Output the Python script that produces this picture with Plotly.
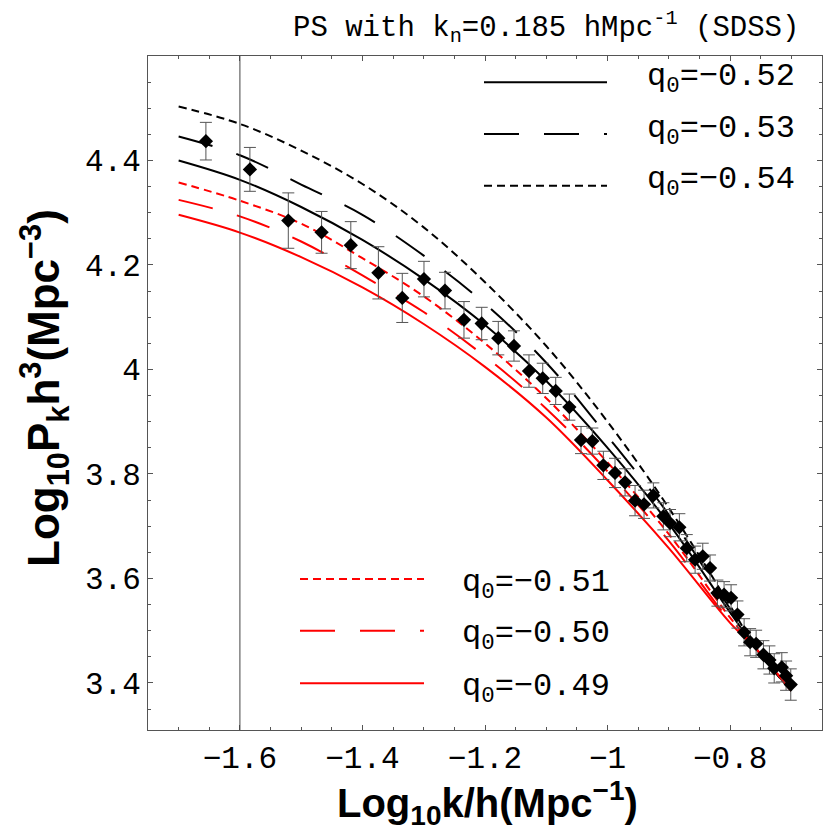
import plotly.graph_objects as go

# ---- observed data (SDSS power spectrum) ----
data_logk = [-1.6555, -1.5837, -1.521, -1.4667, -1.419, -1.374, -1.335, -1.2996, -1.2653,
             -1.2343, -1.2054, -1.1783, -1.1527, -1.1282, -1.1058, -1.0846, -1.0623, -1.0433,
             -1.0248, -1.0068, -0.9878, -0.9714, -0.9551, -0.9404, -0.9252, -0.9089, -0.898,
             -0.8828, -0.8707, -0.8571, -0.8446, -0.8327, -0.8207, -0.8098, -0.7984, -0.788,
             -0.7771, -0.7673, -0.7575, -0.7456, -0.7358, -0.728, -0.7156, -0.7086, -0.701]
data_logP = [4.437, 4.383, 4.285, 4.2625, 4.238, 4.185, 4.137, 4.173, 4.151,
             4.095, 4.088, 4.060, 4.045, 3.997, 3.983, 3.959, 3.928, 3.865,
             3.863, 3.8165, 3.802, 3.784, 3.749, 3.742, 3.759, 3.719, 3.706,
             3.698, 3.658, 3.636, 3.6425, 3.620, 3.572, 3.569, 3.563, 3.531,
             3.497, 3.478, 3.475, 3.454, 3.444, 3.428, 3.430, 3.414, 3.397]
data_err = [0.036, 0.042, 0.053, 0.040, 0.045, 0.050, 0.047, 0.034, 0.035,
            0.035, 0.031, 0.032, 0.029, 0.031, 0.029, 0.026, 0.025, 0.026,
            0.025, 0.027, 0.028, 0.026, 0.029, 0.027, 0.024, 0.026, 0.026,
            0.026, 0.026, 0.026, 0.025, 0.025, 0.025, 0.025, 0.025, 0.026,
            0.026, 0.026, 0.026, 0.027, 0.027, 0.028, 0.028, 0.028, 0.030]

# ---- model curves ----
model_logk = [-1.70, -1.60, -1.50, -1.40, -1.30, -1.20, -1.10, -1.00, -0.90, -0.80, -0.755, -0.70]
q052 = [4.400, 4.363, 4.311, 4.248, 4.173, 4.085, 3.978, 3.850, 3.705, 3.535, 3.462, 3.385]
q053 = [4.446, 4.410, 4.354, 4.296, 4.218, 4.126, 4.013, 3.872, 3.722, 3.542, 3.462, 3.385]
q054 = [4.5035, 4.470, 4.419, 4.355, 4.272, 4.167, 4.045, 3.900, 3.735, 3.548, 3.462, 3.385]
q051 = [4.358, 4.323, 4.279, 4.213, 4.140, 4.050, 3.945, 3.822, 3.685, 3.525, 3.462, 3.385]
q050 = [4.3246, 4.293, 4.245, 4.180, 4.110, 4.025, 3.925, 3.805, 3.672, 3.518, 3.462, 3.385]
q049 = [4.296, 4.262, 4.215, 4.157, 4.087, 4.005, 3.908, 3.788, 3.658, 3.515, 3.462, 3.385]

legend_top = ["q<sub>0</sub>=−0.52", "q<sub>0</sub>=−0.53", "q<sub>0</sub>=−0.54"]
legend_bot = ["q<sub>0</sub>=−0.51", "q<sub>0</sub>=−0.50", "q<sub>0</sub>=−0.49"]

xtick_vals = [-1.6, -1.4, -1.2, -1.0, -0.8]
xtick_text = ["−1.6", "−1.4", "−1.2", "−1", "−0.8"]
ytick_vals = [3.4, 3.6, 3.8, 4.0, 4.2, 4.4]
ytick_text = ["3.4", "3.6", "3.8", "4", "4.2", "4.4"]

MONO = "Liberation Mono, Courier New, monospace"
SANS = "Liberation Sans, Arial, sans-serif"
LONG = "35px,25px"
SHORT = "8px,5px"

curves = [
    (q054, "black", SHORT),
    (q053, "black", LONG),
    (q052, "black", "solid"),
    (q051, "red", SHORT),
    (q050, "red", LONG),
    (q049, "red", "solid"),
]

fig = go.Figure()
for ys, col, dash in curves:
    fig.add_trace(go.Scatter(x=model_logk, y=ys, mode="lines", line_shape="spline",
                             line=dict(color=col, width=2, dash=dash), showlegend=False))

fig.add_trace(go.Scatter(
    x=data_logk, y=data_logP, mode="markers",
    marker=dict(symbol="diamond", size=11, color="black"),
    error_y=dict(type="data", array=data_err, color="#555555", thickness=1, width=6),
    showlegend=False))

# vertical axis line at -1.6
fig.add_vline(x=-1.6, line=dict(color="#444444", width=1))

# the page body adds an 8px offset; figure is sized so that page coords match
OFF = 8
W = H = 832 - OFF
L, R, T, B = 148 - OFF, 10, 56 - OFF, 102
PW, PH = W - L - R, H - T - B


def px2paper_x(px):
    return (px - OFF - L) / PW


def px2paper_y(py):
    return (H - B - (py - OFF)) / PH


top_rows = [(82.3, "black", "solid"), (134.0, "black", LONG), (185.7, "black", SHORT)]
bot_rows = [(579.0, "red", SHORT), (630.7, "red", LONG), (683.3, "red", "solid")]
for (py, col, dash), txt in zip(top_rows, legend_top):
    fig.add_shape(type="line", xref="paper", yref="paper",
                  x0=px2paper_x(484), x1=px2paper_x(607), y0=px2paper_y(py), y1=px2paper_y(py),
                  line=dict(color=col, width=2, dash=dash))
    fig.add_annotation(xref="paper", yref="paper", x=px2paper_x(645), y=px2paper_y(py - 4),
                       text=txt, showarrow=False, xanchor="left", yanchor="middle",
                       font=dict(family=MONO, size=32, color="black"))
for (py, col, dash), txt in zip(bot_rows, legend_bot):
    fig.add_shape(type="line", xref="paper", yref="paper",
                  x0=px2paper_x(300), x1=px2paper_x(424), y0=px2paper_y(py), y1=px2paper_y(py),
                  line=dict(color=col, width=2, dash=dash))
    fig.add_annotation(xref="paper", yref="paper", x=px2paper_x(460), y=px2paper_y(py + 5),
                       text=txt, showarrow=False, xanchor="left", yanchor="middle",
                       font=dict(family=MONO, size=32, color="black"))

# title
fig.add_annotation(xref="paper", yref="paper", x=px2paper_x(546), y=px2paper_y(27),
                   text="PS with k<sub>n</sub>=0.185 hMpc<sup>-1</sup> (SDSS)",
                   showarrow=False, xanchor="center", yanchor="middle",
                   font=dict(family=MONO, size=29, color="black"))
# axis titles
fig.add_annotation(xref="paper", yref="paper", x=px2paper_x(487), y=px2paper_y(803),
                   text="<b>Log<sub>10</sub>k/h(Mpc<sup>−1</sup>)</b>",
                   showarrow=False, xanchor="center", yanchor="middle",
                   font=dict(family=SANS, size=40, color="black"))
fig.add_annotation(xref="paper", yref="paper", x=px2paper_x(44), y=px2paper_y(388),
                   text="<b>Log<sub>10</sub>P<sub>k</sub>h<sup>3</sup>(Mpc<sup>−3</sup>)</b>",
                   showarrow=False, xanchor="center", yanchor="middle", textangle=-90,
                   font=dict(family=SANS, size=44, color="black"))

axis_common = dict(showline=True, linecolor="#555555", linewidth=1, mirror="allticks",
                   ticks="inside", ticklen=5, tickwidth=1, tickcolor="#555555",
                   showgrid=False, zeroline=False, automargin=False,
                   tickfont=dict(family=MONO, size=31, color="black"),
                   minor=dict(ticks="inside", ticklen=3, tickwidth=1, tickcolor="#555555",
                              showgrid=False))

fig.update_xaxes(range=[-1.75, -0.65], tickvals=xtick_vals, ticktext=xtick_text,
                 minor_dtick=0.05, minor_tick0=-1.6, **axis_common)
fig.update_yaxes(range=[3.31, 4.6], tickvals=ytick_vals, ticktext=ytick_text,
                 minor_dtick=0.05, minor_tick0=3.4, **axis_common)

fig.update_layout(width=W, height=H, margin=dict(l=L, r=R, t=T, b=B, autoexpand=False),
                  paper_bgcolor="white", plot_bgcolor="white", showlegend=False)

fig.write_html("out.html")
